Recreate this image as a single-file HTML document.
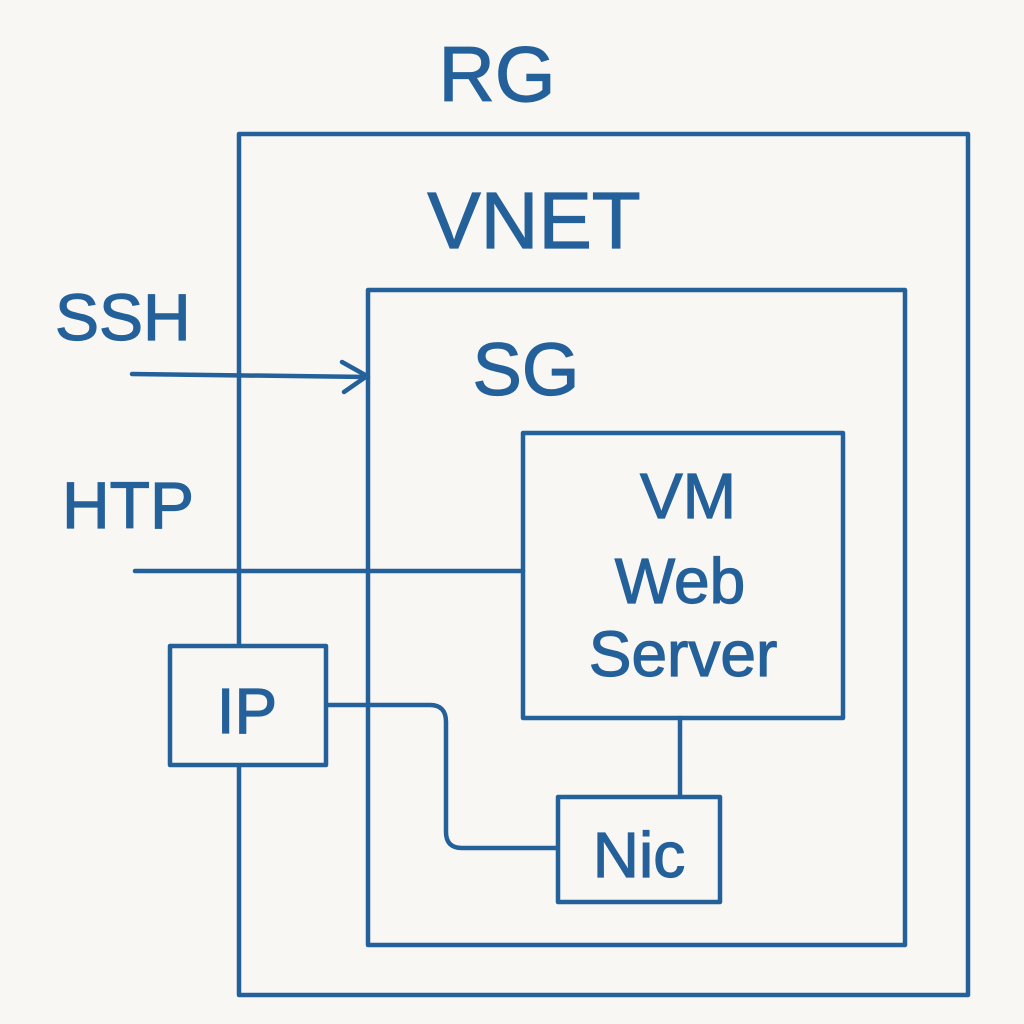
<!DOCTYPE html>
<html><head><meta charset="utf-8"><style>
html,body{margin:0;padding:0;background:#f8f7f3;}
svg{display:block;}
text{font-family:"Liberation Sans",sans-serif;fill:#24609a;stroke:#24609a;stroke-width:1.2;}
</style></head><body>
<svg width="1024" height="1024" viewBox="0 0 1024 1024">
<rect width="1024" height="1024" fill="#f8f7f3"/>
<g fill="none" stroke="#24609a" stroke-width="4.5" stroke-linecap="round" stroke-linejoin="round">
<rect x="239" y="134" width="729" height="861"/>
<rect x="368" y="290" width="537" height="655"/>
<rect x="523" y="433" width="320" height="285"/>
<line x1="132" y1="374" x2="368" y2="377"/>
<polyline points="342,362 367,376 344,392"/>
<line x1="135" y1="571" x2="523" y2="571"/>
<path d="M326 705 H430 Q446 705 446 722 V832 Q446 848 462 848 H558"/>
<line x1="680" y1="718" x2="680" y2="797"/>
<rect x="170" y="646" width="156" height="119" fill="#f8f7f3"/>
<rect x="558" y="797" width="162" height="105" fill="#f8f7f3"/>
</g>
<text x="497" y="101" font-size="78" text-anchor="middle">RG</text>
<text x="534" y="248" font-size="80" text-anchor="middle">VNET</text>
<text x="526" y="395" font-size="74" text-anchor="middle">SG</text>
<text x="55" y="340" font-size="66">SSH</text>
<text x="62" y="528" font-size="66">HTP</text>
<text x="688" y="518" font-size="64" text-anchor="middle">VM</text>
<text x="680" y="603" font-size="64" text-anchor="middle">Web</text>
<text x="683" y="676" font-size="64" text-anchor="middle">Server</text>
<text x="247" y="733" font-size="64" text-anchor="middle">IP</text>
<text x="639" y="877" font-size="64" text-anchor="middle">Nic</text>
</svg>
</body></html>
